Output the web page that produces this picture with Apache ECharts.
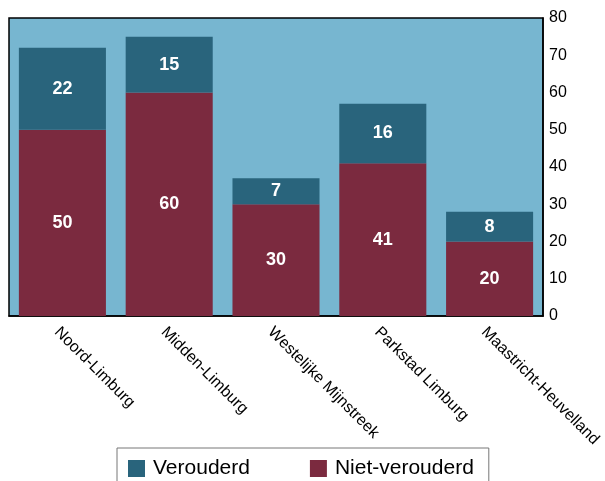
<!DOCTYPE html>
<html>
<head>
<meta charset="utf-8">
<script src="https://cdn.jsdelivr.net/npm/echarts@6/dist/echarts.min.js"></script>
<style>
  html, body { margin: 0; padding: 0; background: #fff; }
  #chart { width: 605px; height: 481px; }
</style>
</head>
<body>
<div id="chart"></div>
<script>
// Regions of Limburg and the number of (non-)outdated items per region
const regions = ['Noord-Limburg', 'Midden-Limburg', 'Westelijke Mijnstreek', 'Parkstad Limburg', 'Maastricht-Heuvelland'];
const verouderd = [22, 15, 7, 16, 8];
const nietVerouderd = [50, 60, 30, 41, 20];
const yTicks = { min: 0, max: 80, interval: 10 };

const font = 'Liberation Sans, Arial, sans-serif';
const segLabel = {
  show: true,
  position: 'inside',
  color: '#ffffff',
  fontWeight: 'bold',
  fontSize: 18,
  fontFamily: font
};

const chart = echarts.init(document.getElementById('chart'), null, { renderer: 'canvas' });
chart.setOption({
  animation: false,
  backgroundColor: '#ffffff',
  textStyle: { fontFamily: font },
  grid: {
    left: 9, right: 62, top: 18, bottom: 165,
    outerBoundsMode: 'none',
    containLabel: false,
    show: true,
    backgroundColor: '#77B6D0',
    borderColor: '#000000',
    borderWidth: 1.5
  },
  legend: {
    left: 117,
    top: 448,
    orient: 'horizontal',
    itemWidth: 17,
    itemHeight: 17,
    itemGap: 60,
    padding: [10, 15, 30, 11],
    borderColor: '#777777',
    borderWidth: 1,
    backgroundColor: '#ffffff',
    icon: 'rect',
    textStyle: { fontSize: 21, color: '#000000', fontFamily: font, padding: [0, 0, 0, 3] },
    data: ['Verouderd', 'Niet-verouderd']
  },
  xAxis: {
    type: 'category',
    data: regions,
    axisLine: { show: true, lineStyle: { color: '#000000', width: 1.5 } },
    axisTick: { show: false },
    axisLabel: {
      rotate: -45,
      margin: 8,
      verticalAlign: 'top',
      fontSize: 16,
      color: '#000000',
      fontFamily: font,
      interval: 0
    }
  },
  yAxis: {
    type: 'value',
    position: 'right',
    min: yTicks.min,
    max: yTicks.max,
    interval: yTicks.interval,
    splitLine: { show: false },
    axisLine: { show: true, lineStyle: { color: '#000000', width: 1.5 } },
    axisTick: { show: false },
    axisLabel: { margin: 6, fontSize: 16, color: '#000000', fontFamily: font }
  },
  series: [
    {
      name: 'Niet-verouderd',
      type: 'bar',
      stack: 'total',
      data: nietVerouderd,
      barCategoryGap: '18.5%',
      itemStyle: { color: '#7B2A3F' },
      label: segLabel
    },
    {
      name: 'Verouderd',
      type: 'bar',
      stack: 'total',
      data: verouderd,
      barCategoryGap: '18.5%',
      itemStyle: { color: '#29647C' },
      label: segLabel
    }
  ]
});
</script>
</body>
</html>
